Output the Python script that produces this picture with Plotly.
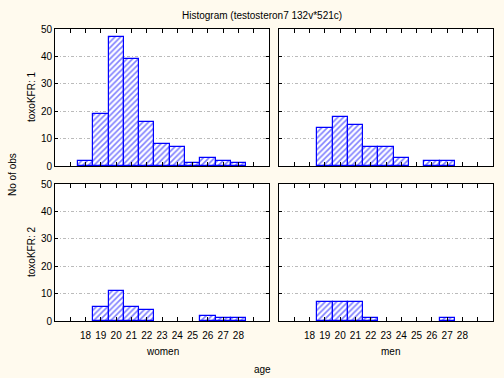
import plotly.graph_objects as go

ages = [18, 19, 20, 21, 22, 23, 24, 25, 26, 27, 28]
tick_vals = [17, 18, 19, 20, 21, 22, 23, 24, 25, 26, 27, 28, 29]
tick_text = ["", "18", "19", "20", "21", "22", "23", "24", "25", "26", "27", "28", ""]

women_kfr1 = [2, 19, 47, 39, 16, 8, 7, 1, 3, 2, 1]
men_kfr1 = [0, 14, 18, 15, 7, 7, 3, 0, 2, 2, 0]
women_kfr2 = [0, 5, 11, 5, 4, 0, 0, 0, 2, 1, 1]
men_kfr2 = [0, 7, 7, 7, 1, 0, 0, 0, 0, 1, 0]

y_ticks = [0, 10, 20, 30, 40, 50]

BG = "#FFFAEE"
BLUE = "#0000FF"
FONT = "Liberation Sans, Arial, sans-serif"

W, H = 504, 378
ML, MR, MT, MB = 55, 11, 29, 57
PW, PH = W - ML - MR, H - MT - MB

def fx(px):
    return (px - ML) / PW
def fy(py):
    return 1 - (py - MT) / PH

fig = go.Figure()

panels = [
    (women_kfr1, "x", "y"),
    (men_kfr1, "x2", "y2"),
    (women_kfr2, "x3", "y3"),
    (men_kfr2, "x4", "y4"),
]
for vals, xa, ya in panels:
    xs = [a for a, v in zip(ages, vals) if v > 0]
    ys = [v for v in vals if v > 0]
    fig.add_trace(go.Bar(
        x=xs, y=ys, width=1, xaxis=xa, yaxis=ya,
        marker=dict(
            color="white",
            line=dict(color=BLUE, width=1.2),
            pattern=dict(shape="/", fgcolor=BLUE, bgcolor="white", size=4, solidity=0.4),
        ),
        showlegend=False,
        hoverinfo="x+y",
    ))

xdom_l = [fx(55), fx(269)]
xdom_r = [fx(279), fx(493)]
ydom_t = [fy(166), fy(29)]
ydom_b = [fy(321), fy(184)]

xcommon = dict(range=[16, 30], tickvals=tick_vals, ticktext=tick_text,
               ticks="inside", ticklen=4, tickcolor="black",
               showline=True, linecolor="black", linewidth=1, mirror="ticks",
               showgrid=False, zeroline=False, automargin=False,
               ticklabelstandoff=5,
               tickfont=dict(family=FONT, size=10, color="black"))
ycommon = dict(range=[0, 50], tickvals=y_ticks,
               ticks="inside", ticklen=3, tickcolor="black",
               showline=True, linecolor="black", linewidth=1, mirror="ticks",
               showgrid=True, gridcolor="#BBBBBB", griddash="3px,2px,1px,2px", gridwidth=1,
               zeroline=False, automargin=False,
               tickfont=dict(family=FONT, size=10, color="black"))

def ann(text, px, py, angle=0):
    return dict(text=text, x=fx(px), y=fy(py), textangle=angle,
                xanchor="center", yanchor="middle",
                xref="paper", yref="paper", showarrow=False, font=dict(size=10))

fig.update_layout(
    width=W, height=H,
    margin=dict(l=ML, r=MR, t=MT, b=MB, autoexpand=False),
    paper_bgcolor=BG, plot_bgcolor="white",
    bargap=0,
    font=dict(family=FONT, size=10, color="black"),
    xaxis=dict(domain=xdom_l, anchor="y", showticklabels=False, **xcommon),
    xaxis2=dict(domain=xdom_r, anchor="y2", showticklabels=False, **xcommon),
    xaxis3=dict(domain=xdom_l, anchor="y3", showticklabels=True, **xcommon),
    xaxis4=dict(domain=xdom_r, anchor="y4", showticklabels=True, **xcommon),
    yaxis=dict(domain=ydom_t, anchor="x", showticklabels=True, **ycommon),
    yaxis2=dict(domain=ydom_t, anchor="x2", showticklabels=False, **ycommon),
    yaxis3=dict(domain=ydom_b, anchor="x3", showticklabels=True, **ycommon),
    yaxis4=dict(domain=ydom_b, anchor="x4", showticklabels=False, **ycommon),
    annotations=[
        ann("Histogram (testosteron7 132v*521c)", 262, 15),
        ann("toxoKFR: 1", 31, 97, -90),
        ann("toxoKFR: 2", 31, 252, -90),
        ann("No of obs", 12, 175, -90),
        ann("women", 162, 351),
        ann("men", 390, 351),
        ann("age", 262, 370),
    ],
)

fig.write_html("out.html", config={"displayModeBar": False},
               post_script="document.body.style.margin='0';document.body.style.background='" + BG + "';")
